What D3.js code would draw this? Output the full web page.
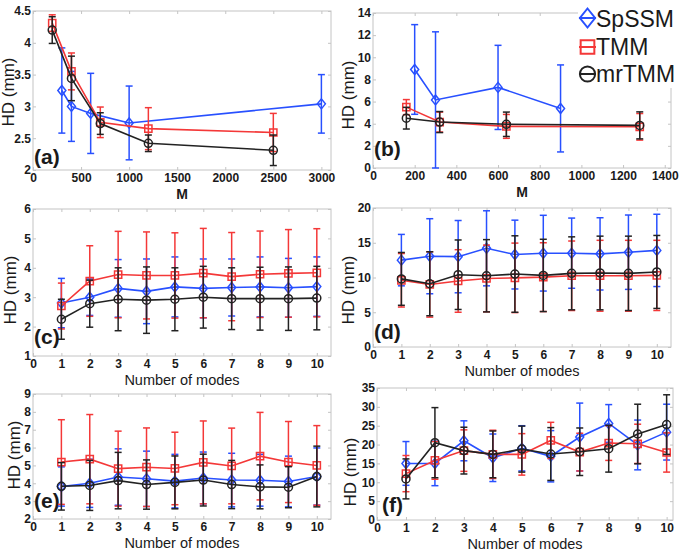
<!DOCTYPE html>
<html><head><meta charset="utf-8">
<script src="https://cdn.jsdelivr.net/npm/d3@7"></script>
<style>
body{margin:0;background:#fff}
svg{display:block}
text{font-family:"Liberation Sans",Arial,Helvetica,sans-serif}
</style>
</head><body>
<svg id="chart" width="685" height="555"></svg>
<script>
// ---------------- DATA ----------------
const seriesNames = ["SpSSM", "TMM", "mrTMM"];
const modes = [1, 2, 3, 4, 5, 6, 7, 8, 9, 10];

// (a) HD vs M
const aSpX = [300, 400, 600, 1000, 3000];
const aSpMean = [3.25, 3.0, 2.89, 2.74, 3.04];
const aSpErr = [0.67, 0.55, 0.63, 0.58, 0.46];
const aTmmX = [200, 400, 700, 1200, 2500];
const aTmmMean = [4.31, 3.55, 2.75, 2.65, 2.59];
const aTmmErr = [0.13, 0.29, 0.24, 0.33, 0.30];
const aMrX = [200, 400, 700, 1200, 2500];
const aMrMean = [4.2, 3.44, 2.73, 2.42, 2.31];
const aMrErr = [0.21, 0.35, 0.17, 0.13, 0.24];

// (b) HD vs M
const bSpX = [200, 300, 600, 900];
const bSpMean = [8.9, 6.15, 7.28, 5.38];
const bSpErr = [4.05, 6.15, 3.8, 3.93];
const bTmmX = [160, 320, 640, 1280];
const bTmmMean = [5.5, 4.15, 3.76, 3.72];
const bTmmErr = [0.68, 0.9, 1.08, 1.2];
const bMrX = [160, 320, 640, 1280];
const bMrMean = [4.5, 4.15, 3.95, 3.85];
const bMrErr = [0.98, 0.95, 1.1, 1.22];

// (c) HD vs number of modes
const cSpMean = [2.8, 3.0, 3.3, 3.2, 3.35, 3.3, 3.33, 3.35, 3.32, 3.36];
const cSpErr = [0.84, 0.62, 0.98, 1.1, 1.02, 1.0, 0.97, 1.02, 1.0, 1.01];
const cTmmMean = [2.7, 3.55, 3.77, 3.74, 3.74, 3.82, 3.7, 3.78, 3.81, 3.83];
const cTmmErr = [0.78, 1.2, 1.47, 1.48, 1.45, 1.52, 1.5, 1.47, 1.49, 1.5];
const cMrMean = [2.25, 2.78, 2.93, 2.9, 2.93, 3.0, 2.95, 2.95, 2.95, 2.97];
const cMrErr = [0.68, 0.8, 1.07, 1.13, 1.07, 1.05, 1.05, 1.07, 1.08, 1.08];

// (d)
const dSpMean = [12.5, 13.06, 13.0, 14.2, 13.3, 13.5, 13.5, 13.4, 13.64, 13.9];
const dSpErr = [3.7, 5.4, 5.2, 5.4, 4.95, 5.45, 5.05, 5.2, 5.35, 5.2];
const dTmmMean = [9.6, 9.0, 9.5, 9.86, 9.95, 10.05, 10.25, 10.25, 10.25, 10.3];
const dTmmErr = [3.85, 4.7, 4.5, 4.8, 5.0, 4.95, 5.0, 5.1, 5.1, 5.05];
const dMrMean = [9.8, 9.1, 10.4, 10.25, 10.5, 10.3, 10.6, 10.65, 10.6, 10.8];
const dMrErr = [3.8, 4.6, 5.0, 5.2, 5.5, 5.2, 5.25, 5.3, 5.35, 5.25];

// (e)
const eSpMean = [3.82, 4.0, 4.35, 4.25, 4.12, 4.3, 4.18, 4.17, 4.1, 4.38];
const eSpErr = [1.1, 1.35, 1.58, 1.55, 1.5, 1.45, 1.5, 1.45, 1.42, 1.6];
const eTmmMean = [5.19, 5.35, 4.82, 4.9, 4.83, 5.17, 4.97, 5.52, 5.19, 5.0];
const eTmmErr = [2.37, 2.5, 2.1, 2.2, 2.03, 2.32, 2.12, 2.45, 2.27, 2.23];
const eMrMean = [3.83, 3.88, 4.15, 3.93, 4.05, 4.18, 3.93, 3.8, 3.78, 4.38];
const eMrErr = [1.33, 1.4, 1.58, 1.38, 1.48, 1.45, 1.35, 1.23, 1.15, 1.7];

// (f)
const fSpMean = [15.0, 15.0, 21.0, 16.5, 19.0, 16.9, 22.0, 25.6, 19.9, 23.3];
const fSpErr = [5.8, 5.9, 5.3, 6.3, 6.0, 6.8, 9.0, 5.0, 6.6, 7.4];
const fTmmMean = [12.3, 15.8, 18.4, 17.4, 17.4, 21.1, 18.0, 20.4, 20.2, 17.9];
const fTmmErr = [4.8, 5.0, 5.5, 6.4, 5.5, 4.8, 5.0, 4.6, 5.2, 5.2];
const fMrMean = [10.9, 20.5, 18.4, 17.4, 18.8, 17.5, 18.1, 18.9, 22.8, 25.3];
const fMrErr = [5.3, 9.3, 6.2, 6.2, 6.1, 7.0, 6.3, 6.2, 7.9, 7.9];

// tick labels
const xTicksA = [0, 500, 1000, 1500, 2000, 2500, 3000];
const yTicksA = [2, 2.5, 3, 3.5, 4, 4.5];
const xTicksB = [0, 200, 400, 600, 800, 1000, 1200, 1400];
const yTicksB = [0, 2, 4, 6, 8, 10, 12, 14];
const xTicksModes = [0, 1, 2, 3, 4, 5, 6, 7, 8, 9, 10];
const yTicksC = [1, 2, 3, 4, 5, 6];
const yTicksD = [0, 5, 10, 15, 20];
const yTicksE = [2, 3, 4, 5, 6, 7, 8, 9];
const yTicksF = [0, 5, 10, 15, 20, 25, 30, 35];

// ---------------- STYLE / LAYOUT ----------------
const colors = ["#2850ff", "#f43838", "#222222"];
const boxColor = "#c4c4c4";
const textColor = "#1a1a1a";
const fmt = d3.format("~g");
const ser = (x, m, e) => ({x, m, e});

const panels = [
  {label: "(a)", x0: 33, y0: 11, x1: 331, y1: 170, xd: [0, 3100], yd: [2, 4.5], xt: xTicksA, yt: yTicksA,
   xlab: "M", xlabBold: true, labX: 34, labY: 164, ylabX: 14, ylabY: 92,
   series: [ser(aSpX, aSpMean, aSpErr), ser(aTmmX, aTmmMean, aTmmErr), ser(aMrX, aMrMean, aMrErr)]},
  {label: "(b)", x0: 373, y0: 13, x1: 671, y1: 168, xd: [0, 1430], yd: [0, 14], xt: xTicksB, yt: yTicksB,
   xlab: "M", xlabBold: true, labX: 374, labY: 156, ylabX: 354, ylabY: 95,
   series: [ser(bSpX, bSpMean, bSpErr), ser(bTmmX, bTmmMean, bTmmErr), ser(bMrX, bMrMean, bMrErr)]},
  {label: "(c)", x0: 33, y0: 209, x1: 331, y1: 356, xd: [0, 10.5], yd: [1, 6], xt: xTicksModes, yt: yTicksC,
   xlab: "Number of modes", xlabBold: false, labX: 34, labY: 344, ylabX: 16, ylabY: 290,
   series: [ser(modes, cSpMean, cSpErr), ser(modes, cTmmMean, cTmmErr), ser(modes, cMrMean, cMrErr)]},
  {label: "(d)", x0: 373, y0: 208, x1: 671, y1: 347, xd: [0, 10.5], yd: [0, 20], xt: xTicksModes, yt: yTicksD,
   xlab: "Number of modes", xlabBold: false, labX: 374, labY: 339, ylabX: 354, ylabY: 290,
   series: [ser(modes, dSpMean, dSpErr), ser(modes, dTmmMean, dTmmErr), ser(modes, dMrMean, dMrErr)]},
  {label: "(e)", x0: 33, y0: 394, x1: 331, y1: 519, xd: [0, 10.5], yd: [2, 9], xt: xTicksModes, yt: yTicksE,
   xlab: "Number of modes", xlabBold: false, labX: 34, labY: 508, ylabX: 20, ylabY: 455,
   series: [ser(modes, eSpMean, eSpErr), ser(modes, eTmmMean, eTmmErr), ser(modes, eMrMean, eMrErr)]},
  {label: "(f)", x0: 377, y0: 388, x1: 673, y1: 520, xd: [0, 10.22], yd: [0, 35], xt: xTicksModes, yt: yTicksF,
   xlab: "Number of modes", xlabBold: false, labX: 382, labY: 512, ylabX: 356, ylabY: 472,
   series: [ser(modes, fSpMean, fSpErr), ser(modes, fTmmMean, fTmmErr), ser(modes, fMrMean, fMrErr)]}
];

const svg = d3.select("#chart");
svg.append("rect").attr("width", 685).attr("height", 555).attr("fill", "#fff");

function markerPath(kind, cx, cy, s) {
  if (kind === 0) { // diamond
    const w = 4 * s, h = 5 * s;
    return `M${cx},${cy - h}L${cx + w},${cy}L${cx},${cy + h}L${cx - w},${cy}Z`;
  } else if (kind === 1) { // square
    const a = 3.6 * s;
    return `M${cx - a},${cy - a}H${cx + a}V${cy + a}H${cx - a}Z`;
  } else { // circle
    const r = 4 * s;
    return `M${cx - r},${cy}A${r},${r} 0 1,0 ${cx + r},${cy}A${r},${r} 0 1,0 ${cx - r},${cy}Z`;
  }
}

function styleAxis(g) {
  g.select(".domain").remove();
  g.selectAll(".tick line").attr("stroke", boxColor);
  g.selectAll(".tick text").attr("fill", textColor).attr("font-size", 12)
    .attr("font-family", '"Liberation Sans",Arial,sans-serif').attr("font-weight", "bold");
}

function drawPanel(p) {
  const x = d3.scaleLinear().domain(p.xd).range([p.x0, p.x1]);
  const y = d3.scaleLinear().domain(p.yd).range([p.y1, p.y0]);
  const g = svg.append("g");

  g.append("g").attr("transform", `translate(0,${p.y1})`)
    .call(d3.axisBottom(x).tickValues(p.xt).tickSize(-3).tickPadding(3).tickFormat(fmt))
    .call(styleAxis);
  g.append("g").attr("transform", `translate(0,${p.y0})`)
    .call(d3.axisTop(x).tickValues(p.xt).tickSize(-3).tickFormat(""))
    .call(styleAxis);
  g.append("g").attr("transform", `translate(${p.x0},0)`)
    .call(d3.axisLeft(y).tickValues(p.yt).tickSize(-3).tickPadding(2).tickFormat(fmt))
    .call(styleAxis);
  g.append("g").attr("transform", `translate(${p.x1},0)`)
    .call(d3.axisRight(y).tickValues(p.yt).tickSize(-3).tickFormat(""))
    .call(styleAxis);

  g.append("rect").attr("x", p.x0).attr("y", p.y0)
    .attr("width", p.x1 - p.x0).attr("height", p.y1 - p.y0)
    .attr("fill", "none").attr("stroke", boxColor).attr("stroke-width", 1);

  g.append("text").attr("x", (p.x0 + p.x1) / 2).attr("y", p.y1 + 29)
    .attr("text-anchor", "middle").attr("font-size", p.xlabBold ? 14 : 14.5)
    .attr("font-weight", p.xlabBold ? "bold" : "normal").attr("fill", textColor).text(p.xlab);
  g.append("text").attr("transform", `translate(${p.ylabX},${p.ylabY}) rotate(-90)`)
    .attr("text-anchor", "middle").attr("font-size", 17).attr("fill", textColor).text("HD (mm)");
  g.append("text").attr("x", p.labX).attr("y", p.labY).attr("font-size", 21)
    .attr("font-weight", "bold").attr("fill", textColor).text(p.label);

  p.series.forEach((s, k) => {
    const c = colors[k];
    const sg = g.append("g");
    const pts = s.x.map((xv, i) => ({x: xv, m: s.m[i], e: s.e[i]}));
    const eb = sg.selectAll("g.eb").data(pts).enter().append("g")
      .attr("stroke", c).attr("stroke-width", 1.5).attr("fill", "none");
    eb.append("line").attr("x1", d => x(d.x)).attr("x2", d => x(d.x))
      .attr("y1", d => y(d.m - d.e)).attr("y2", d => y(d.m + d.e));
    eb.append("line").attr("x1", d => x(d.x) - 3.5).attr("x2", d => x(d.x) + 3.5)
      .attr("y1", d => y(d.m + d.e)).attr("y2", d => y(d.m + d.e));
    eb.append("line").attr("x1", d => x(d.x) - 3.5).attr("x2", d => x(d.x) + 3.5)
      .attr("y1", d => y(d.m - d.e)).attr("y2", d => y(d.m - d.e));
    const line = d3.line().x(d => x(d.x)).y(d => y(d.m));
    sg.append("path").datum(pts).attr("d", line).attr("fill", "none")
      .attr("stroke", c).attr("stroke-width", 1.6);
    sg.selectAll("path.mk").data(pts).enter().append("path").attr("class", "mk")
      .attr("d", d => markerPath(k, x(d.x), y(d.m), 1))
      .attr("fill", "none").attr("stroke", c).attr("stroke-width", 1.5);
  });
}

panels.forEach(drawPanel);

// legend
const leg = svg.append("g");
leg.append("rect").attr("x", 578).attr("y", 0).attr("width", 107).attr("height", 88).attr("fill", "#fff");
const legY = [18, 47, 74];
const legBase = [27, 55, 82];
seriesNames.forEach((n, k) => {
  leg.append("line").attr("x1", 579).attr("x2", 596).attr("y1", legY[k]).attr("y2", legY[k])
    .attr("stroke", colors[k]).attr("stroke-width", 2);
  leg.append("path").attr("d", markerPath(k, 587.5, legY[k], 1.9))
    .attr("fill", "none").attr("stroke", colors[k]).attr("stroke-width", 2);
  leg.append("text").attr("x", 596).attr("y", legBase[k]).attr("font-size", 23)
    .attr("fill", textColor).text(n);
});
</script>
</body></html>
